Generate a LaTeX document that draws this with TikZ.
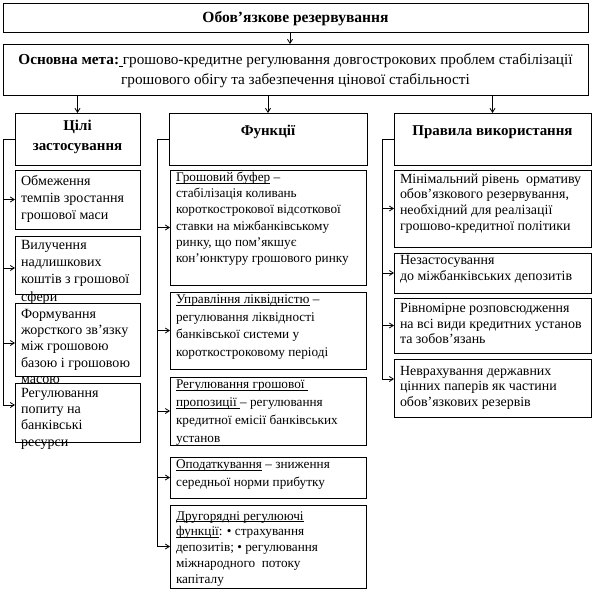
\documentclass[tikz,border=0pt]{standalone}
\usepackage{fontspec}
\setmainfont{Liberation Serif}
\usetikzlibrary{arrows.meta}
\newcommand\tb[4]{\parbox[c][#2bp][t]{#1bp}{\raggedright\vspace*{\dimexpr#3bp-\ht\strutbox\relax}\strut#4}}
\newcommand\tbc[4]{\parbox[c][#2bp][t]{#1bp}{\centering\vspace*{\dimexpr#3bp-\ht\strutbox\relax}\strut#4}}
\newcommand\ulx[1]{\underline{\smash{#1}}}
\tikzset{
  bx/.style={draw, line width=0.8bp, anchor=north west, inner xsep=6bp, inner ysep=0pt, outer sep=0pt},
  fA/.style={font=\fontsize{14.1}{#1}\selectfont},
  fC/.style={font=\fontsize{14}{#1}\selectfont},
  fB/.style={font=\fontsize{13.3}{#1}\selectfont},
  fM/.style={font=\fontsize{15.3}{#1}\selectfont},
  fH/.style={font=\fontsize{15}{#1}\selectfont\bfseries},
  fT/.style={font=\fontsize{15.6}{#1}\selectfont\bfseries},
  arr/.style={line width=0.8bp, -{Straight Barb[length=4bp,width=5bp]}},
}
\begin{document}
\begin{tikzpicture}[x=1bp,y=-1bp]
\useasboundingbox (0,0) rectangle (592,589);
% top
\node[bx, fT=18] (title) at (3,3) {\tbc{573}{29}{20}{Обов’язкове резервування}};
\node[bx, fM=19.5] (main) at (3,44) {\tbc{573}{51}{21}{\textbf{Основна мета:}\ulx{\ }грошово-кредитне регулювання довгострокових проблем стабілізації\\грошового обігу та забезпечення цінової стабільності}};
% headers
\node[bx, fH=19.5] (h1) at (15,113) {\tbc{113}{52}{18}{Цілі\\застосування}};
\node[bx, fH=20] (h2) at (169,113) {\tbc{186}{52}{23}{Функції}};
\node[bx, fH=20] (h3) at (394,113) {\tbc{185}{52}{23}{Правила використання}};
% column 1
\node[bx, fA=17.5] (c1a) at (15,170) {\tb{113}{59}{15}{Обмеження\\темпів зростання\\грошової маси}};
\node[bx, fA=17.5] (c1b) at (15,236) {\tb{113}{58}{13}{Вилучення\\надлишкових\\коштів з грошової\\сфери}};
\node[bx, fA=16.5] (c1c) at (15,303) {\tb{113}{73}{15}{Формування\\жорсткого зв’язку\\між грошовою\\базою і грошовою\\масою}};
\node[bx, fA=16.5] (c1d) at (15,383) {\tb{113}{59}{14}{Регулювання\\попиту на\\банківські\\ресурси}};
% column 2
\node[bx, fB=16.3] (c2a) at (170,170) {\tb{184}{115}{11.5}{\ulx{Грошовий буфер} –\\стабілізація коливань\\короткострокової відсоткової\\ставки на міжбанківському\\ринку, що пом’якшує\\кон’юнктуру грошового ринку}};
\node[bx, fB=17.7] (c2b) at (170,292) {\tb{184}{77}{11.5}{\ulx{Управління ліквідністю} –\\регулювання ліквідності\\банківської системи у\\короткостроковому періоді}};
\node[bx, fB=18] (c2c) at (170,377) {\tb{184}{68}{11.5}{\ulx{Регулювання грошової\ }\\\ulx{пропозиції\ }– регулювання\\кредитної емісії банківських\\установ}};
\node[bx, fB=18] (c2d) at (170,457) {\tb{184}{41}{11.5}{\ulx{Оподаткування} – зниження\\середньої норми прибутку}};
\node[bx, fB=16] (c2e) at (170,505) {\tb{184}{83}{15}{\ulx{Другорядні регулюючі}\\\ulx{функції}: • страхування\\депозитів; • регулювання\\міжнародного\ \ потоку\\капіталу}};
% column 3
\node[bx, fC=16] (c3a) at (394,170) {\tb{185}{77}{13}{Мінімальний рівень\ \ ормативу\\обов’язкового резервування,\\необхідний для реалізації\\грошово-кредитної політики}};
\node[bx, fC=17] (c3b) at (394,253) {\tb{185}{40}{11}{Незастосування\\до міжбанківських депозитів}};
\node[bx, fC=15.7] (c3c) at (394,298) {\tb{185}{55}{14.7}{Рівномірне розповсюдження\\на всі види кредитних установ\\та зобов’язань}};
\node[bx, fC=15.8] (c3d) at (394,359) {\tb{185}{58}{16}{Неврахування державних\\цінних паперів як частини\\обов’язкових резервів}};
% connectors
\coordinate (ta) at ([xshift=-5.5bp]title.south);
\draw[arr] (ta) -- (ta |- main.north);
\draw[arr] (main.south -| h1.north) -- (h1.north);
\draw[arr] (main.south -| h2.north) -- (h2.north);
\draw[arr] (main.south -| h3.north) -- (h3.north);
\coordinate (k1) at (3,0);
\coordinate (k2) at (157,0);
\coordinate (k3) at (382,0);
\coordinate (e1a) at (c1a.west);
\coordinate (e1b) at ([yshift=-3bp]c1b.west);
\coordinate (e1c) at ([yshift=-3.5bp]c1c.west);
\coordinate (e1d) at ([yshift=7.5bp]c1d.west);
\coordinate (e3d) at ([yshift=9bp]c3d.west);
\draw[arr] (h1.west) -- (h1.west -| k1) |- (e1d);
\foreach \e in {e1a,e1b,e1c} \draw[arr] (\e -| k1) -- (\e);
\draw[arr] (h2.west) -- (h2.west -| k2) |- (c2e.west);
\foreach \e in {c2a,c2b,c2c,c2d} \draw[arr] (\e.west -| k2) -- (\e.west);
\draw[arr] (h3.west) -- (h3.west -| k3) |- (e3d);
\foreach \e in {c3a,c3b,c3c} \draw[arr] (\e.west -| k3) -- (\e.west);
\end{tikzpicture}
\end{document}
